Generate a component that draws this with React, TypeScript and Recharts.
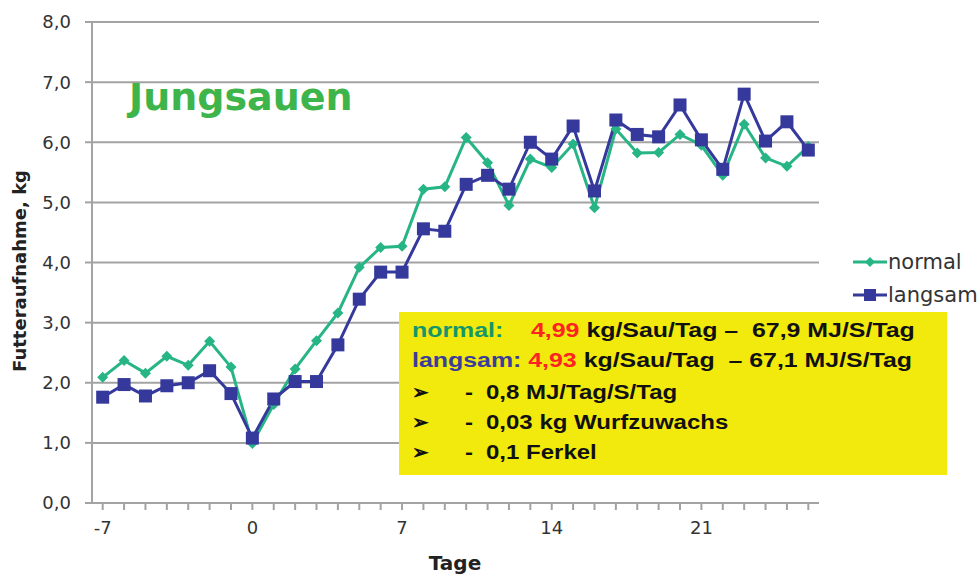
import { LineChart, Line, XAxis, YAxis, CartesianGrid, Legend } from 'recharts';

// Tage relativ zur Geburt
const days = [-7, -6, -5, -4, -3, -2, -1, 0, 1, 2, 3, 4, 5, 6, 7, 8, 9, 10, 11, 12, 13, 14, 15, 16, 17, 18, 19, 20, 21, 22, 23, 24, 25, 26];
const normal = [2.09, 2.37, 2.16, 2.44, 2.29, 2.69, 2.26, 0.99, 1.64, 2.23, 2.7, 3.16, 3.92, 4.25, 4.27, 5.22, 5.26, 6.08, 5.66, 4.95, 5.72, 5.58, 5.97, 4.91, 6.22, 5.82, 5.83, 6.13, 5.95, 5.45, 6.3, 5.74, 5.6, 5.93];
const langsam = [1.76, 1.97, 1.78, 1.95, 2.0, 2.2, 1.82, 1.08, 1.73, 2.02, 2.02, 2.63, 3.39, 3.84, 3.84, 4.56, 4.52, 5.3, 5.45, 5.22, 6.0, 5.72, 6.27, 5.19, 6.37, 6.13, 6.09, 6.62, 6.04, 5.55, 6.8, 6.02, 6.34, 5.87];
const yTicks = [0, 1, 2, 3, 4, 5, 6, 7, 8];
const labeledDays = [-7, 0, 7, 14, 21];

const GREEN = '#27b585';
const BLUE = '#35399b';
const FONT = '"DejaVu Sans", Verdana, sans-serif';

const chartData = days.map((d, i) => ({ day: d, normal: normal[i], langsam: langsam[i] }));

const Diamond = (props: any) => {
  const { cx, cy } = props;
  if (cx == null || cy == null) return null;
  const r = 5.5;
  return <polygon points={`${cx},${cy - r} ${cx + r},${cy} ${cx},${cy + r} ${cx - r},${cy}`} fill={GREEN} />;
};

const Square = (props: any) => {
  const { cx, cy } = props;
  if (cx == null || cy == null) return null;
  const s = 13;
  return <rect x={cx - s / 2} y={cy - s / 2} width={s} height={s} fill={BLUE} />;
};

const LegendBox = () => (
  <div style={{ fontFamily: FONT, fontSize: 21, color: '#333' }}>
    {[{ name: 'normal', color: GREEN, diamond: true }, { name: 'langsam', color: BLUE, diamond: false }].map(item => (
      <div key={item.name} style={{ display: 'flex', alignItems: 'center', height: 33 }}>
        <svg width={34} height={16} style={{ marginRight: 1 }}>
          <line x1={0} y1={8} x2={34} y2={8} stroke={item.color} strokeWidth={3} />
          {item.diamond
            ? <polygon points="17,3 22,8 17,13 12,8" fill={item.color} />
            : <rect x={11} y={2} width={12} height={12} fill={item.color} />}
        </svg>
        <span>{item.name}</span>
      </div>
    ))}
  </div>
);

const stretch = { display: 'inline-block', transform: 'scaleX(1.2)', transformOrigin: 'left center' } as const;
const wide = { ...stretch, transform: 'scaleX(1.245)' } as const;

const bullet = (text: string) => (
  <div style={{ position: 'relative', height: 30 }}>
    <span style={{ position: 'absolute', left: 0, top: 2 }}>➢</span>
    <span style={{ position: 'absolute', left: 53, top: 2, ...stretch }}>-</span>
    <span style={{ position: 'absolute', left: 74, top: 2, ...stretch }}>{text}</span>
  </div>
);

export default function App() {
  return (
    <div style={{ position: 'absolute', left: 0, top: 0, width: 980, height: 574, background: '#fff' }}>
      <LineChart width={980} height={574} data={chartData} margin={{ top: 22, right: 161, left: 0, bottom: 0 }}>
        <CartesianGrid vertical={false} stroke="#a3a3a3" strokeWidth={2} />
        <XAxis
          dataKey="day"
          type="number"
          domain={[-7.5, 26.5]}
          ticks={days}
          interval={0}
          tickFormatter={(v: number) => (labeledDays.includes(v) ? String(v) : '')}
          stroke="#a3a3a3"
          strokeWidth={2}
          tickSize={7}
          tickMargin={11}
          height={71}
          tick={{ fill: '#333', fontSize: 18, fontFamily: FONT }}
          label={{
            content: () => (
              <text x={455} y={570} textAnchor="middle" fontFamily={FONT} fontWeight="bold" fontSize={20} fill="#222">Tage</text>
            ),
          }}
        />
        <YAxis
          type="number"
          domain={[0, 8]}
          ticks={yTicks}
          interval={0}
          tickFormatter={(v: number) => v.toFixed(1).replace('.', ',')}
          width={92}
          stroke="#a3a3a3"
          strokeWidth={2}
          tickSize={7}
          tickMargin={14}
          tick={{ fill: '#333', fontSize: 18, fontFamily: FONT }}
          label={{
            content: () => (
              <text x={26} y={271} transform="rotate(-90 26 271)" textAnchor="middle" fontFamily={FONT} fontWeight="bold" fontSize={18} fill="#222">Futteraufnahme, kg</text>
            ),
          }}
        />
        <Legend
          layout="horizontal"
          align="center"
          verticalAlign="middle"
          content={() => <LegendBox />}
          wrapperStyle={{ left: 853, top: 245, width: 127 }}
        />
        <Line dataKey="normal" name="normal" stroke={GREEN} strokeWidth={3} dot={<Diamond />} activeDot={false} isAnimationActive={false} />
        <Line dataKey="langsam" name="langsam" stroke={BLUE} strokeWidth={3} dot={<Square />} activeDot={false} isAnimationActive={false} />
      </LineChart>

      <div style={{ position: 'absolute', left: 129, top: 74, fontFamily: FONT, fontWeight: 'bold', fontSize: 38, color: '#3db54a', lineHeight: '46px' }}>
        Jungsauen
      </div>

      <div style={{
        position: 'absolute', left: 399, top: 312, width: 548, height: 163, background: '#f2ea0c',
        fontFamily: '"Liberation Sans", Arial, sans-serif', fontWeight: 'bold', fontSize: 20, color: '#111',
        boxSizing: 'border-box', paddingLeft: 13, paddingTop: 5, whiteSpace: 'pre', lineHeight: '26px',
      }}>
        <div style={{ height: 30 }}>
          <span style={wide}>
            <span style={{ color: '#15966a' }}>normal:    </span>
            <span style={{ color: '#ff2222' }}>4,99</span>
            <span> kg/Sau/Tag –  67,9 MJ/S/Tag</span>
          </span>
        </div>
        <div style={{ height: 30 }}>
          <span style={wide}>
            <span style={{ color: '#3b3d9a' }}>langsam: </span>
            <span style={{ color: '#ff2222' }}>4,93</span>
            <span> kg/Sau/Tag  – 67,1 MJ/S/Tag</span>
          </span>
        </div>
        {bullet('0,8 MJ/Tag/S/Tag')}
        {bullet('0,03 kg Wurfzuwachs')}
        {bullet('0,1 Ferkel')}
      </div>
    </div>
  );
}
